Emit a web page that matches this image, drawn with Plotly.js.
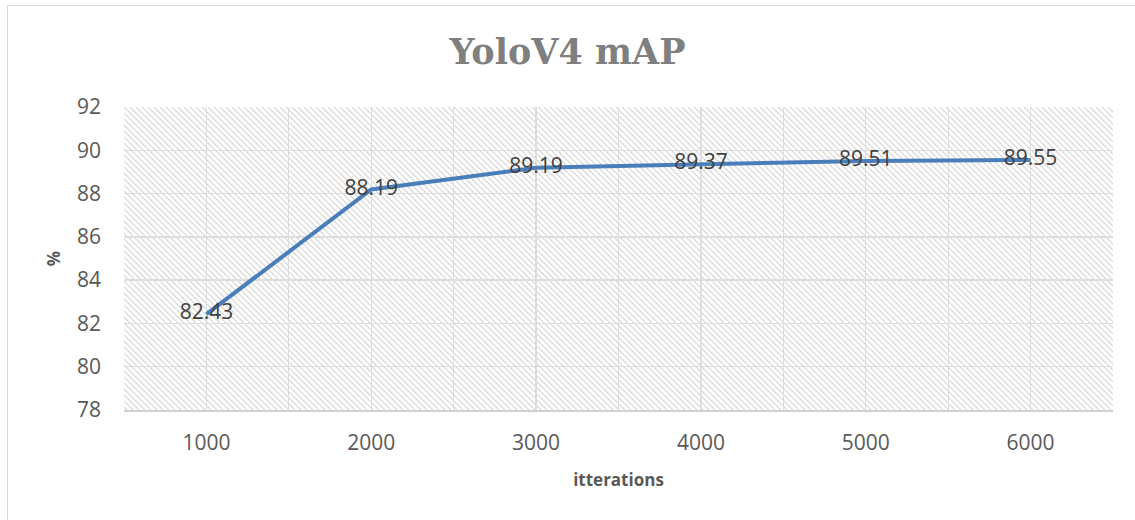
<!DOCTYPE html>
<html>
<head>
<meta charset="utf-8">
<script src="https://cdn.plot.ly/plotly-3.0.1.min.js"></script>
<style>
  html, body { margin: 0; padding: 0; background: #ffffff; }
  #wrap { position: relative; width: 1135px; height: 520px; overflow: hidden; }
  #frame { position: absolute; left: 7px; top: 5px; width: 1300px; height: 700px; border: 1px solid #d9d9d9; box-sizing: border-box; }
  #hatch { position: absolute; left: 124px; top: 107px; width: 989px; height: 303px;
    background-color: #ffffff;
    background-image: url("data:image/svg+xml;utf8,<svg xmlns='http://www.w3.org/2000/svg' width='6' height='6'><path d='M0 0 L6 6 M-3 3 L3 9 M3 -3 L9 3' stroke='%23d2d2d2' stroke-width='1.1'/></svg>");
    background-size: 6px 6px; background-repeat: repeat; }
  #chart { position: absolute; left: 0; top: 0; width: 1135px; height: 520px; }
</style>
</head>
<body>
<div id="wrap">
  <div id="frame"></div>
  <div id="hatch"></div>
  <div id="chart"></div>
</div>
<script>
const iterations = [1000, 2000, 3000, 4000, 5000, 6000];
const mapValues = [82.43, 88.19, 89.19, 89.37, 89.51, 89.55];
const mapLabels = ["82.43", "88.19", "89.19", "89.37", "89.51", "89.55"];

const trace = {
  x: iterations,
  y: mapValues,
  mode: 'lines+text',
  text: mapLabels,
  textposition: 'middle center',
  textfont: { family: 'Open Sans, sans-serif', size: 21, color: '#404040' },
  line: { color: '#4a7ebb', width: 4 },
  hoverinfo: 'x+y',
  cliponaxis: false
};

const layout = {
  width: 1135,
  height: 520,
  margin: { l: 124, r: 22, t: 107, b: 110 },
  paper_bgcolor: 'rgba(0,0,0,0)',
  plot_bgcolor: 'rgba(0,0,0,0)',
  showlegend: false,
  title: {
    text: '<b>YoloV4 mAP</b>',
    font: { family: 'DejaVu Serif, serif', size: 35, color: '#7f7f7f' },
    x: 0.5, xanchor: 'center',
    y: 1 - 52 / 520, yanchor: 'middle', yref: 'container'
  },
  xaxis: {
    range: [500, 6500],
    tickmode: 'linear', tick0: 0, dtick: 1000,
    showgrid: true, gridcolor: '#dddddd', gridwidth: 1.3,
    minor: { tickmode: 'linear', tick0: 500, dtick: 1000, showgrid: true, gridcolor: '#dddddd', gridwidth: 1.3 },
    showline: true, linecolor: '#d0d0d0', linewidth: 1.5,
    zeroline: false,
    ticks: '', ticklabelstandoff: 13,
    tickfont: { family: 'Open Sans, sans-serif', size: 21, color: '#595959' },
    title: { text: '<b>itterations</b>', standoff: 19,
             font: { family: 'Open Sans, sans-serif', size: 17, color: '#595959' } }
  },
  yaxis: {
    range: [78, 92],
    tickmode: 'linear', tick0: 78, dtick: 2,
    showgrid: true, gridcolor: '#dddddd', gridwidth: 1.3,
    showline: false, zeroline: false,
    ticks: '', ticklabelstandoff: 22,
    tickfont: { family: 'Open Sans, sans-serif', size: 21, color: '#595959' },
    title: { text: '<b>%</b>', standoff: 12,
             font: { family: 'Open Sans, sans-serif', size: 17, color: '#595959' } }
  }
};

Plotly.newPlot('chart', [trace], layout, { displayModeBar: false, staticPlot: true });
</script>
</body>
</html>
